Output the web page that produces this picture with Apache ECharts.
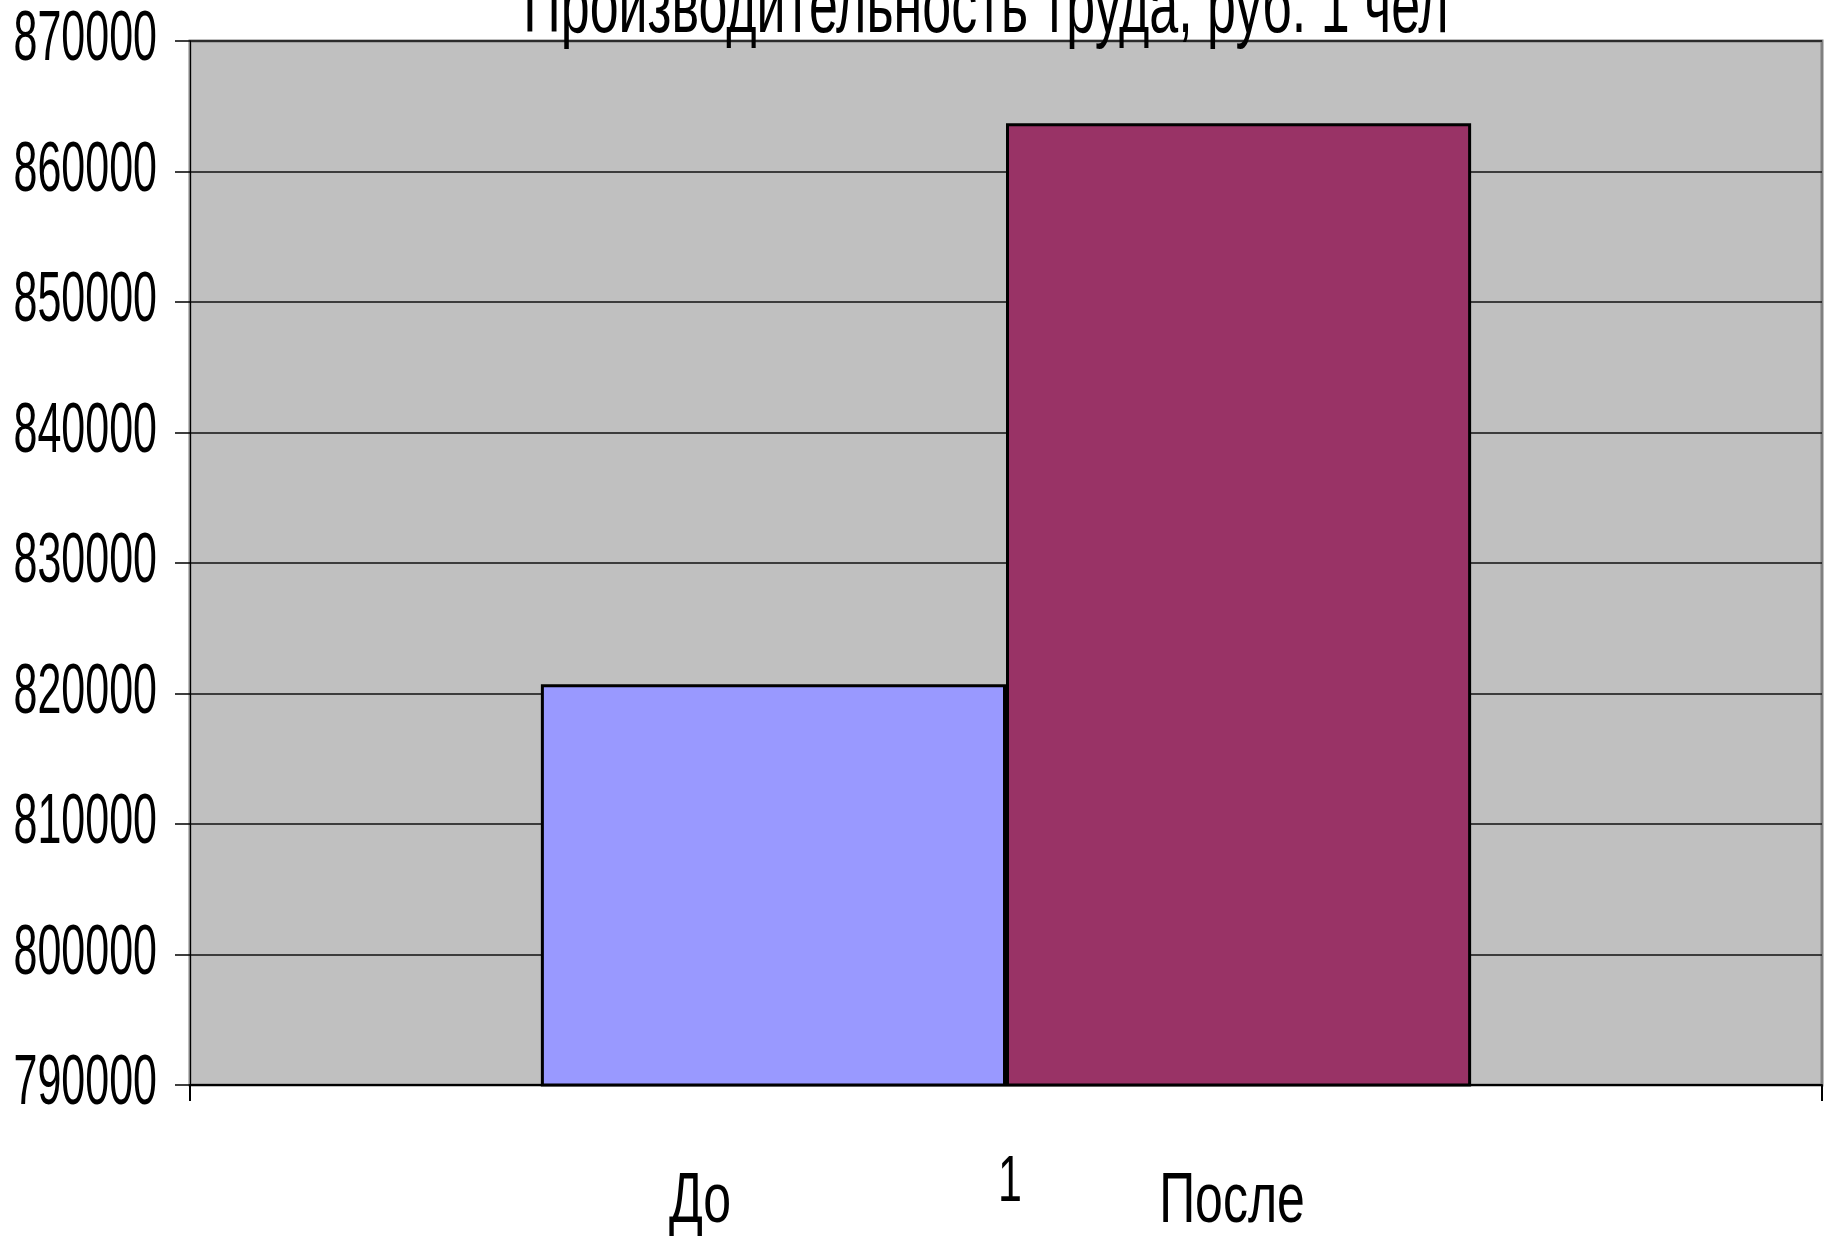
<!DOCTYPE html>
<html>
<head>
<meta charset="utf-8">
<script src="https://cdn.jsdelivr.net/npm/echarts@6/dist/echarts.min.js"></script>
<style>html,body{margin:0;padding:0;background:#fff}#c{width:1825px;height:1240px}</style>
</head>
<body>
<div id="c"></div>
<script>
const titleText = 'Производительность труда, руб. 1 чел';
const categories = ['1'];
const seriesNames = ['До', 'После'];
const seriesValues = [[820700], [863700]];
const seriesColors = ['#9999FF', '#993366'];
const yMin = 790000, yMax = 870000, yStep = 10000;
const yTickLabels = ['790000', '800000', '810000', '820000', '830000', '840000', '850000', '860000', '870000'];

const FONT = '"Liberation Sans", Arial, sans-serif';
const chart = echarts.init(document.getElementById('c'), null, {renderer: 'canvas'});
const option = {
  backgroundColor: '#ffffff',
  animation: false,
  grid: {
    left: 190, right: 3, top: 41, bottom: 155, outerBoundsMode: 'none', containLabel: false,
    show: true, backgroundColor: '#C0C0C0', borderColor: '#808080', borderWidth: 3
  },
  xAxis: {
    type: 'category', data: categories,
    axisLine: {lineStyle: {color: '#000', width: 2}},
    axisTick: {show: true, length: 16, lineStyle: {color: '#000', width: 2}},
    axisLabel: {show: false},
    splitLine: {show: false}
  },
  yAxis: {
    type: 'value', min: yMin, max: yMax, interval: yStep,
    axisLine: {show: true, lineStyle: {color: '#000', width: 1}},
    axisTick: {show: true, length: 15, lineStyle: {color: '#000', width: 1.5}},
    axisLabel: {show: false},
    splitLine: {show: true, lineStyle: {color: '#111', width: 1.5}}
  },
  series: seriesNames.map((n, i) => ({
    name: n, type: 'bar', data: seriesValues[i],
    barGap: '0%', barCategoryGap: '43%',
    itemStyle: {color: seriesColors[i], borderColor: '#000', borderWidth: 3}
  }))
};
chart.setOption(option);

// stretched (condensed-looking) texts placed via the chart's own scales
function stretchedText(text, x, y, size, sy, align) {
  return {
    type: 'text', x: x, y: y, scaleY: sy, silent: true,
    style: {text: text, x: 0, y: 0, align: align || 'center', verticalAlign: 'middle',
            font: size + 'px ' + FONT, fill: '#000'}
  };
}
const els = [];
yTickLabels.forEach(t => {
  const py = chart.convertToPixel({yAxisIndex: 0}, Number(t));
  els.push(stretchedText(t, 157, py, 43, 1.62, 'right'));
});
const catX = chart.convertToPixel({xAxisIndex: 0}, categories[0]);
const axisY = chart.convertToPixel({yAxisIndex: 0}, yMin);
els.push(stretchedText(categories[0], catX + 4, axisY + 98, 43, 1.5));
els.push(stretchedText(seriesNames[0], 700, axisY + 118, 50, 1.4));
els.push(stretchedText(seriesNames[1], 1232, axisY + 118, 50, 1.4));
els.push(stretchedText(titleText, 986, 10, 52, 1.55));
chart.setOption({graphic: {elements: els}});
</script>
</body>
</html>
